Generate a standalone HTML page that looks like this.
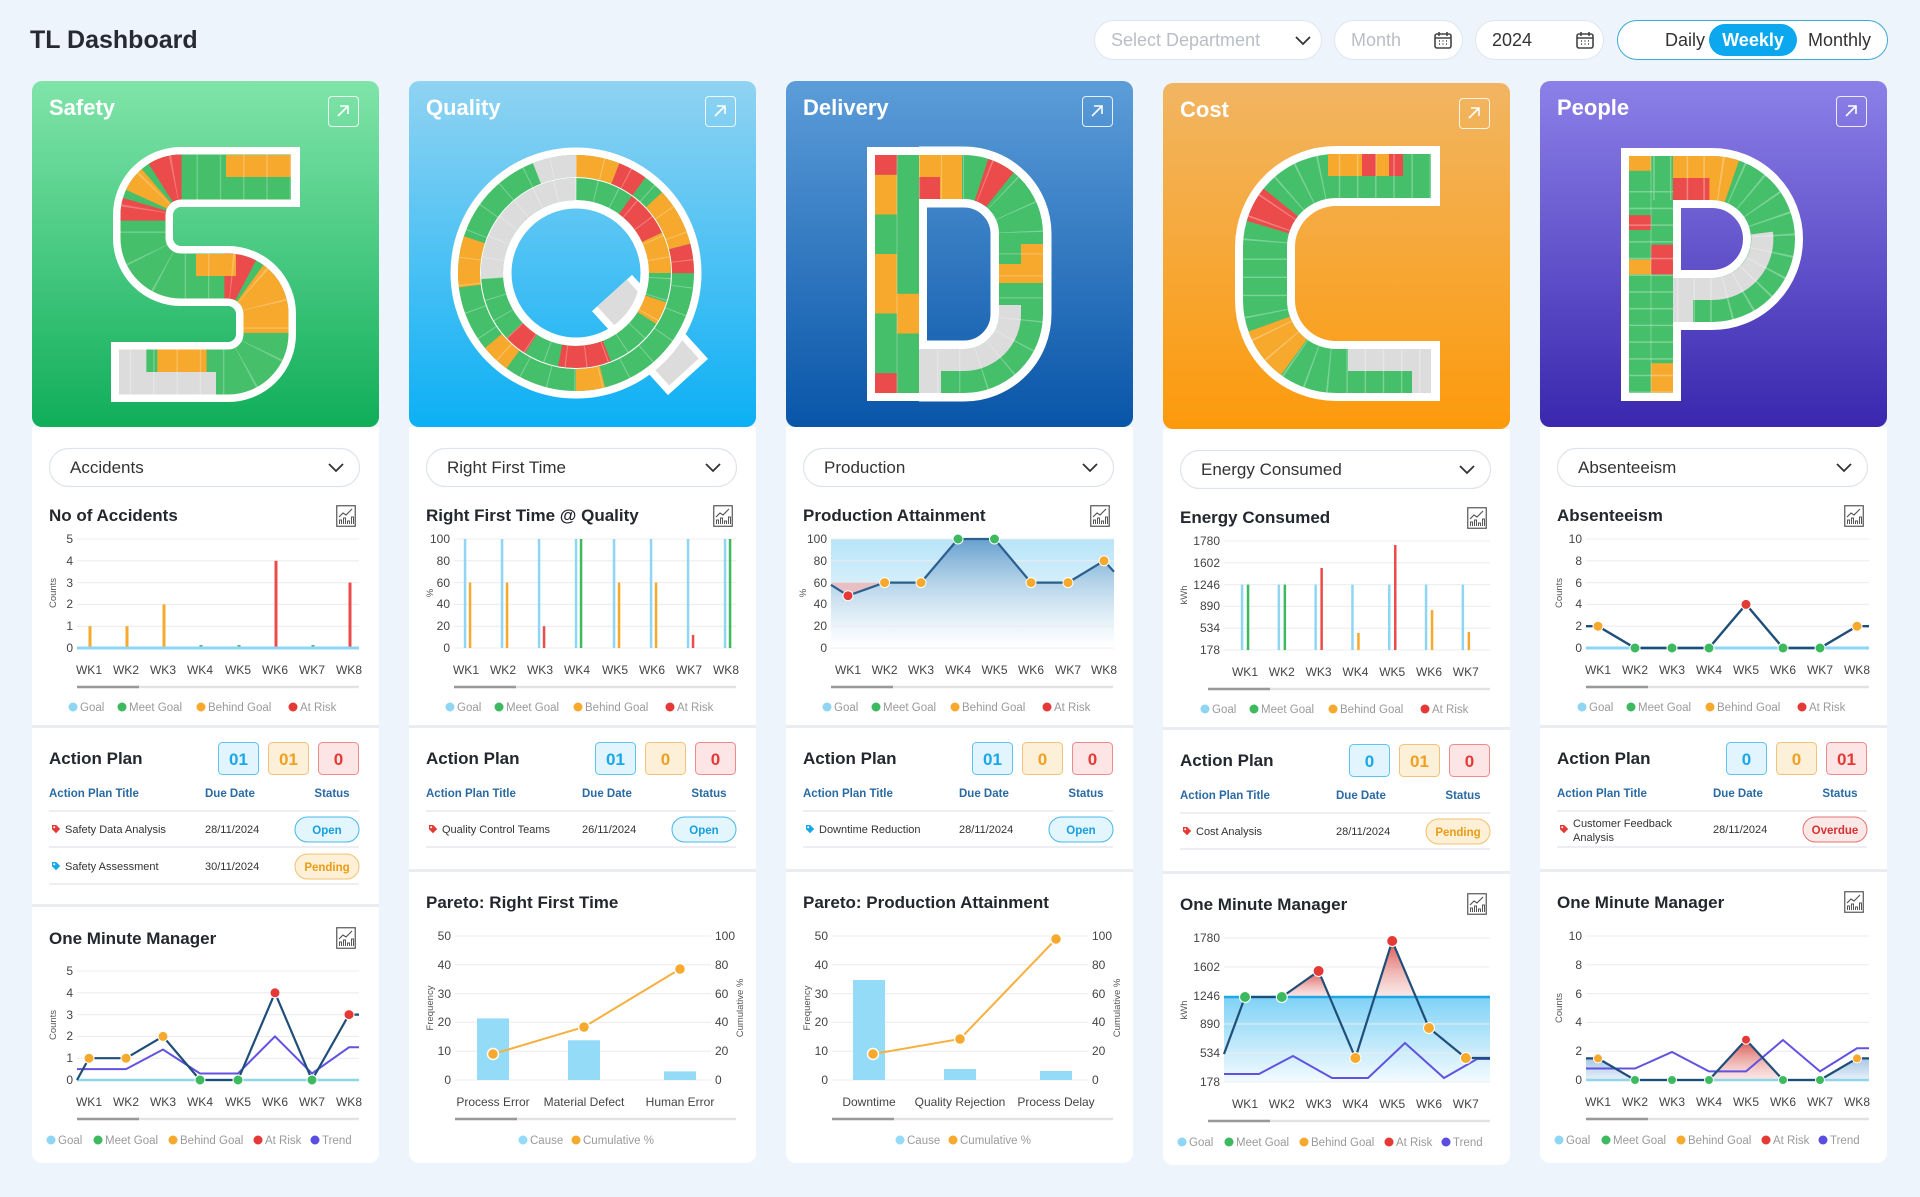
<!DOCTYPE html>
<html><head><meta charset="utf-8">
<style>
*{box-sizing:border-box}
body{margin:0;width:1920px;height:1197px;background:#eef4fc;position:relative;overflow:hidden;font-family:"Liberation Sans",sans-serif}
.title{position:absolute;left:30px;top:26px;font-weight:bold;font-size:25px;color:#262b33}
.ctl{position:absolute;top:20px;height:40px;border:1px solid #dfe6ef;border-radius:20px;background:#fff;font-size:18px;color:#b9bec6;line-height:38px;padding-left:16px}
.card{position:absolute;top:81px;width:347px;height:1082px}
.hero{position:absolute;left:0;top:0;width:347px;height:346px;border-radius:10px;overflow:hidden}
.hero .t{position:absolute;left:17px;top:14px;font-weight:bold;font-size:22px;color:#fff}
.hero .ar{position:absolute;left:296px;top:15px;width:31px;height:31px;border:1.5px solid rgba(255,255,255,.85);border-radius:4px}
.hero svg{position:absolute;left:0;top:0}
.body{position:absolute;left:0;top:346px;width:347px;height:736px;background:#fff;border-radius:0 0 10px 10px}
.body svg{position:absolute;left:0;top:0}
.h{font-weight:bold;font-size:17px;fill:#23272e}
.dd{font-size:17px;fill:#333}
.ddb{fill:#fff;stroke:#dfe4ea;stroke-width:1.2}
.chev{fill:none;stroke:#333;stroke-width:1.8}
.ax text,text.ax{font-size:12px;fill:#444}
.lg text{font-size:11.5px;fill:#9a9a9a}
.th{font-weight:bold;font-size:11.5px;fill:#2a6aa3}
.td{font-size:11px;fill:#333}
.rot{font-size:9.5px;fill:#555}
.bn{font-weight:bold;font-size:17px;text-anchor:middle}
.pl{font-weight:bold;font-size:11.5px;text-anchor:middle}
.g line{stroke:#ececec;stroke-width:1}
</style></head><body>
<svg width="0" height="0" style="position:absolute">
<defs>
<symbol id="ci" viewBox="0 0 20 22"><rect x=".75" y=".75" width="18.5" height="20.5" fill="none" stroke="#555" stroke-width="1.2"/><polyline points="3,12 7,8 10,10 16,4" fill="none" stroke="#555" stroke-width="1.2"/><path d="M3.5,19v-4h2v4M7.5,19v-6h2v6M11.5,19v-3h2v3M15.5,19v-7h2v7" fill="none" stroke="#555" stroke-width="1"/></symbol>
<symbol id="tag" viewBox="0 0 10 10"><path d="M1,1h4.2l4,4l-4.2,4.2l-4,-4z"/><circle cx="3.2" cy="3.2" r="1" fill="#fff"/></symbol>
<symbol id="cal" viewBox="0 0 20 20"><rect x="2" y="4" width="16" height="14" rx="2" fill="none" stroke="#444" stroke-width="1.6"/><path d="M2,8h16M6,2v4M14,2v4" stroke="#444" stroke-width="1.6"/><path d="M6,11h1M9.5,11h1M13,11h1M6,14h1M9.5,14h1M13,14h1" stroke="#444" stroke-width="1.6"/></symbol>
<path id="pS" pathLength="100" fill="none" d="M178,30 L68,30 A38,38 0 0 0 30,68 L30,91 A38,38 0 0 0 68,129 L115,129 A38,38 0 0 1 153,167 L153,187 A38,38 0 0 1 115,225 L6,225"/>
<path id="pSw" fill="none" d="M187,30 L68,30 A38,38 0 0 0 30,68 L30,91 A38,38 0 0 0 68,129 L115,129 A38,38 0 0 1 153,167 L153,187 A38,38 0 0 1 115,225 L-2,225"/>
<path id="pD" pathLength="100" fill="none" d="M52,30 L97,30 A57,57 0 0 1 154,87 L154,167 A57,57 0 0 1 97,224 L52,224"/>
<path id="pC" pathLength="100" fill="none" d="M195,29 L100,29 A71,71 0 0 0 29,100 L29,153 A71,71 0 0 0 100,224 L195,224"/>
<path id="pCw" fill="none" d="M204,29 L100,29 A71,71 0 0 0 29,100 L29,153 A71,71 0 0 0 100,224 L204,224"/>
<path id="pP" pathLength="100" fill="none" d="M29,246 L29,31 L90,31 A61,61 0 0 1 151,92 A61,61 0 0 1 90,153 L51,153"/>
<path id="pPw" fill="none" d="M29,254 L29,31 L90,31 A61,61 0 0 1 151,92 A61,61 0 0 1 90,153 L45,153"/>
<linearGradient id="gBlueA" x1="0" y1="0" x2="0" y2="1"><stop offset="0" stop-color="#b8e4f8"/><stop offset="1" stop-color="#ffffff"/></linearGradient>
<linearGradient id="gSteel" x1="0" y1="0" x2="0" y2="1"><stop offset="0" stop-color="#5e98c9" stop-opacity=".9"/><stop offset="1" stop-color="#ffffff" stop-opacity=".2"/></linearGradient>
<linearGradient id="gGoal" x1="0" y1="0" x2="0" y2="1"><stop offset="0" stop-color="#7fd2f6"/><stop offset="1" stop-color="#f4fbff"/></linearGradient>
<linearGradient id="gRed" x1="0" y1="0" x2="0" y2="1"><stop offset="0" stop-color="#d9504a"/><stop offset="1" stop-color="#f3c7c5" stop-opacity=".4"/></linearGradient>
<linearGradient id="gPB" x1="0" y1="0" x2="0" y2="1"><stop offset="0" stop-color="#a9c7e4"/><stop offset="1" stop-color="#e8f1fa"/></linearGradient>
</defs></svg>

<div class="title">TL Dashboard</div>
<div class="ctl" style="left:1094px;width:228px">Select Department<svg width="16" height="10" style="position:absolute;left:200px;top:15px"><path d="M1,1l7,7l7,-7" fill="none" stroke="#333" stroke-width="1.8"/></svg></div>
<div class="ctl" style="left:1334px;width:129px">Month<svg width="20" height="20" style="position:absolute;left:98px;top:9px"><use href="#cal"/></svg></div>
<div class="ctl" style="left:1475px;width:129px;color:#333">2024<svg width="20" height="20" style="position:absolute;left:99px;top:9px"><use href="#cal"/></svg></div>
<div class="ctl" style="left:1617px;width:271px;border-color:#3aa9d8;color:#333;padding:0">
<span style="position:absolute;left:47px;top:0">Daily</span>
<span style="position:absolute;left:91px;top:3px;width:88px;height:32px;border-radius:16px;background:#0ba8ef;color:#fff;font-weight:bold;text-align:center;line-height:32px">Weekly</span>
<span style="position:absolute;left:190px;top:0">Monthly</span></div>

<!-- SAFETY -->
<div class="card" style="left:32px">
<div class="hero" style="background:linear-gradient(#80e4a9,#10ae5a)"><div class="t">Safety</div><div class="ar"><svg width="28" height="28"><path d="M9,19L19,9M11,9h8v8" fill="none" stroke="#fff" stroke-width="1.6"/></svg></div>
<svg width="347" height="346"><g transform="translate(81,66)">
<use href="#pSw" stroke="#fff" stroke-width="60"/>
<use href="#pS" stroke="#45bf69" stroke-width="45"/>
<rect x="113" y="8" width="65" height="22" fill="#f6a92c"/>
<use href="#pS" stroke="#ec4b4b" stroke-width="45" stroke-dasharray="4 200" stroke-dashoffset="-20"/>
<use href="#pS" stroke="#f6a92c" stroke-width="45" stroke-dasharray="3 200" stroke-dashoffset="-25"/>
<use href="#pS" stroke="#ec4b4b" stroke-width="45" stroke-dasharray="3 200" stroke-dashoffset="-29"/>
<use href="#pS" stroke="#ec4b4b" stroke-width="45" stroke-dasharray="4 200" stroke-dashoffset="-54"/>
<use href="#pS" stroke="#f6a92c" stroke-width="45" stroke-dasharray="10 200" stroke-dashoffset="-59"/>
<use href="#pS" stroke="#f6a92c" stroke-width="45" stroke-dasharray="9 200" stroke-dashoffset="-84"/>
<rect x="83" y="107" width="40" height="22" fill="#f6a92c"/>
<rect x="8" y="225" width="95" height="22.5" fill="#dcdcdc"/>
<use href="#pS" stroke="#dcdcdc" stroke-width="45" stroke-dasharray="5 200" stroke-dashoffset="-95"/>
<use href="#pS" stroke="#fff" stroke-opacity=".25" stroke-width="45" stroke-dasharray="0.25 4"/>
</g></svg></div>
<div class="body"><svg width="347" height="736">
<rect x="17.5" y="21.5" width="310" height="38" rx="19" class="ddb"/><text x="38" y="46" class="dd">Accidents</text><path d="M297,37l7,7l7,-7" class="chev"/>
<text x="17" y="94" class="h">No of Accidents</text><use href="#ci" x="304" y="78" width="20" height="22"/>
<g class="g"><line x1="45" x2="327" y1="112" y2="112"/><line x1="45" x2="327" y1="133.8" y2="133.8"/><line x1="45" x2="327" y1="155.6" y2="155.6"/><line x1="45" x2="327" y1="177.4" y2="177.4"/><line x1="45" x2="327" y1="199.2" y2="199.2"/></g>
<g class="ax" text-anchor="end"><text x="41" y="116">5</text><text x="41" y="138">4</text><text x="41" y="160">3</text><text x="41" y="181">2</text><text x="41" y="203">1</text><text x="41" y="225">0</text></g>
<text class="rot" transform="translate(24,166) rotate(-90)" text-anchor="middle">Counts</text>
<rect x="56.5" y="199.2" width="3" height="21.8" fill="#f6a92c"/><rect x="93.5" y="199.2" width="3" height="21.8" fill="#f6a92c"/><rect x="130.5" y="177.4" width="3" height="43.6" fill="#f6a92c"/><rect x="167.5" y="218" width="3" height="3" fill="#45bf69"/><rect x="205.5" y="218" width="3" height="3" fill="#45bf69"/><rect x="242.5" y="133.8" width="3" height="87.2" fill="#ec4b4b"/><rect x="279.5" y="218" width="3" height="3" fill="#45bf69"/><rect x="316.5" y="155.6" width="3" height="65.4" fill="#ec4b4b"/>
<line x1="45" x2="327" y1="221" y2="221" stroke="#8fd6f5" stroke-width="3"/>
<g class="ax" text-anchor="middle"><text x="57" y="247">WK1</text><text x="94" y="247">WK2</text><text x="131" y="247">WK3</text><text x="168" y="247">WK4</text><text x="206" y="247">WK5</text><text x="243" y="247">WK6</text><text x="280" y="247">WK7</text><text x="317" y="247">WK8</text></g>
<line x1="45" x2="327" y1="260" y2="260" stroke="#e2e2e2" stroke-width="2.5"/><line x1="45" x2="107" y1="260" y2="260" stroke="#999" stroke-width="2.5"/>
<g class="lg"><circle cx="41" cy="280" r="4.5" fill="#8fd6f5"/><text x="48" y="284">Goal</text><circle cx="90" cy="280" r="4.5" fill="#3dba5f"/><text x="97" y="284">Meet Goal</text><circle cx="169" cy="280" r="4.5" fill="#f6a92c"/><text x="176" y="284">Behind Goal</text><circle cx="261" cy="280" r="4.5" fill="#e53935"/><text x="268" y="284">At Risk</text></g>
<rect x="0" y="298" width="347" height="3" fill="#e9edf2"/>
<text x="17" y="337" class="h">Action Plan</text>
<rect x="186.5" y="315.5" width="40" height="32" rx="4" fill="#e2f4fd" stroke="#5bc4ef"/><text x="206.5" y="338" class="bn" fill="#1aa7e8">01</text>
<rect x="236.5" y="315.5" width="40" height="32" rx="4" fill="#fdf0d9" stroke="#f3c27a"/><text x="256.5" y="338" class="bn" fill="#f0a020">01</text>
<rect x="286.5" y="315.5" width="40" height="32" rx="4" fill="#fde5e5" stroke="#ef8a8a"/><text x="306.5" y="338" class="bn" fill="#e53935">0</text>
<text x="17" y="370" class="th">Action Plan Title</text><text x="173" y="370" class="th">Due Date</text><text x="300" y="370" class="th" text-anchor="middle">Status</text>
<line x1="17" x2="327" y1="384" y2="384" stroke="#eceef2" stroke-width="2"/>
<use href="#tag" x="19" y="397" width="10" height="10" fill="#e53935"/><text x="33" y="406" class="td">Safety Data Analysis</text><text x="173" y="406" class="td">28/11/2024</text>
<rect x="263" y="390" width="64" height="25" rx="12.5" fill="#e3f5fd" stroke="#48b8ea"/><text x="295" y="407" class="pl" fill="#159fe0">Open</text>
<line x1="17" x2="327" y1="420" y2="420" stroke="#eceef2" stroke-width="2"/>
<use href="#tag" x="19" y="434" width="10" height="10" fill="#1aa7e8"/><text x="33" y="443" class="td">Safety Assessment</text><text x="173" y="443" class="td">30/11/2024</text>
<rect x="263" y="427" width="64" height="25" rx="12.5" fill="#fdf0d6" stroke="#f2c070"/><text x="295" y="444" class="pl" fill="#eb9b14">Pending</text>
<line x1="17" x2="327" y1="457" y2="457" stroke="#eceef2" stroke-width="2"/>
<rect x="0" y="477" width="347" height="3" fill="#e9edf2"/>
<text x="17" y="517" class="h">One Minute Manager</text><use href="#ci" x="304" y="500" width="20" height="22"/>
<g class="g"><line x1="45" x2="327" y1="544" y2="544"/><line x1="45" x2="327" y1="565.8" y2="565.8"/><line x1="45" x2="327" y1="587.6" y2="587.6"/><line x1="45" x2="327" y1="609.4" y2="609.4"/><line x1="45" x2="327" y1="631.2" y2="631.2"/></g>
<g class="ax" text-anchor="end"><text x="41" y="548">5</text><text x="41" y="570">4</text><text x="41" y="592">3</text><text x="41" y="613">2</text><text x="41" y="635">1</text><text x="41" y="657">0</text></g>
<text class="rot" transform="translate(24,598) rotate(-90)" text-anchor="middle">Counts</text>
<line x1="45" x2="327" y1="653" y2="653" stroke="#8fd6e8" stroke-width="2.5"/>
<polyline points="45,642.1 57,642.1 94,642.1 131,622.5 168,646.5 206,646.5 243,609.4 280,646.5 317,620.3 327,620.3" fill="none" stroke="#6152e0" stroke-width="2"/>
<polyline points="45,653 57,631.2 94,631.2 131,609.4 168,653 206,653 243,565.8 280,653 317,587.6 327,587.6" fill="none" stroke="#1f4e79" stroke-width="2.2"/>
<g stroke="#fff" stroke-width="1"><circle cx="57" cy="631.2" r="5" fill="#f6a92c"/><circle cx="94" cy="631.2" r="5" fill="#f6a92c"/><circle cx="131" cy="609.4" r="5" fill="#f6a92c"/><circle cx="168" cy="653" r="5" fill="#3dba5f"/><circle cx="206" cy="653" r="5" fill="#3dba5f"/><circle cx="243" cy="565.8" r="5" fill="#e53935"/><circle cx="280" cy="653" r="5" fill="#3dba5f"/><circle cx="317" cy="587.6" r="5" fill="#e53935"/></g>
<g class="ax" text-anchor="middle"><text x="57" y="679">WK1</text><text x="94" y="679">WK2</text><text x="131" y="679">WK3</text><text x="168" y="679">WK4</text><text x="206" y="679">WK5</text><text x="243" y="679">WK6</text><text x="280" y="679">WK7</text><text x="317" y="679">WK8</text></g>
<line x1="45" x2="327" y1="692" y2="692" stroke="#e2e2e2" stroke-width="2.5"/><line x1="45" x2="107" y1="692" y2="692" stroke="#999" stroke-width="2.5"/>
<g class="lg"><circle cx="19" cy="713" r="4.5" fill="#8fd6f5"/><text x="26" y="717">Goal</text><circle cx="66" cy="713" r="4.5" fill="#3dba5f"/><text x="73" y="717">Meet Goal</text><circle cx="141" cy="713" r="4.5" fill="#f6a92c"/><text x="148" y="717">Behind Goal</text><circle cx="226" cy="713" r="4.5" fill="#e53935"/><text x="233" y="717">At Risk</text><circle cx="283" cy="713" r="4.5" fill="#5a4de0"/><text x="290" y="717">Trend</text></g>
</svg></div></div>

<!-- QUALITY -->
<div class="card" style="left:409px">
<div class="hero" style="background:linear-gradient(#90d3f2,#0cb0f5)"><div class="t">Quality</div><div class="ar"><svg width="28" height="28"><path d="M9,19L19,9M11,9h8v8" fill="none" stroke="#fff" stroke-width="1.6"/></svg></div>
<svg width="347" height="346"><g transform="translate(167,192)">
<line x1="36" y1="20" x2="112" y2="104" stroke="#fff" stroke-width="54"/>
<line x1="36" y1="20" x2="108" y2="99" stroke="#dcdcdc" stroke-width="40"/>
<circle r="95" fill="none" stroke="#fff" stroke-width="61"/>
<g transform="rotate(-90)" fill="none">
<circle r="107" stroke="#45bf69" stroke-width="22"/>
<circle r="84" stroke="#45bf69" stroke-width="22"/>
<circle r="107" stroke="#f6a92c" stroke-width="22" stroke-dasharray="40.3 1000"/>
<circle r="107" stroke="#ec4b4b" stroke-width="22" stroke-dasharray="26.9 1000" stroke-dashoffset="-40.3"/>
<circle r="107" stroke="#f6a92c" stroke-width="22" stroke-dasharray="53.8 1000" stroke-dashoffset="-87.4"/>
<circle r="107" stroke="#ec4b4b" stroke-width="22" stroke-dasharray="26.9 1000" stroke-dashoffset="-141.2"/>
<circle r="107" stroke="#f6a92c" stroke-width="22" stroke-dasharray="26.9 1000" stroke-dashoffset="-309.3"/>
<circle r="107" stroke="#f6a92c" stroke-width="22" stroke-dasharray="26.9 1000" stroke-dashoffset="-403.4"/>
<circle r="107" stroke="#f6a92c" stroke-width="22" stroke-dasharray="47.1 1000" stroke-dashoffset="-490.8"/>
<circle r="107" stroke="#dcdcdc" stroke-width="22" stroke-dasharray="40.3 1000" stroke-dashoffset="-632"/>
<circle r="84" stroke="#ec4b4b" stroke-width="22" stroke-dasharray="42.2 1000" stroke-dashoffset="-52.8"/>
<circle r="84" stroke="#f6a92c" stroke-width="22" stroke-dasharray="36.9 1000" stroke-dashoffset="-95"/>
<circle r="84" stroke="#f6a92c" stroke-width="22" stroke-dasharray="21.1 1000" stroke-dashoffset="-158.3"/>
<circle r="84" stroke="#ec4b4b" stroke-width="22" stroke-dasharray="47.5 1000" stroke-dashoffset="-232.2"/>
<circle r="84" stroke="#ec4b4b" stroke-width="22" stroke-dasharray="21.1 1000" stroke-dashoffset="-311.4"/>
<circle r="84" stroke="#dcdcdc" stroke-width="22" stroke-dasharray="137.2 1000" stroke-dashoffset="-390.6"/>
<circle r="107" stroke="#fff" stroke-opacity=".3" stroke-width="22" stroke-dasharray="1 24.9"/>
<circle r="84" stroke="#fff" stroke-opacity=".3" stroke-width="22" stroke-dasharray="1 18.5"/>
<circle r="95.5" stroke="#fff" stroke-opacity=".4" stroke-width="1"/>
</g></g></svg></div>
<div class="body"><svg width="347" height="736">
<rect x="17.5" y="21.5" width="310" height="38" rx="19" class="ddb"/><text x="38" y="46" class="dd">Right First Time</text><path d="M297,37l7,7l7,-7" class="chev"/>
<text x="17" y="94" class="h">Right First Time @ Quality</text><use href="#ci" x="304" y="78" width="20" height="22"/>
<g class="g"><line x1="45" x2="327" y1="112" y2="112"/><line x1="45" x2="327" y1="133.8" y2="133.8"/><line x1="45" x2="327" y1="155.6" y2="155.6"/><line x1="45" x2="327" y1="177.4" y2="177.4"/><line x1="45" x2="327" y1="199.2" y2="199.2"/><line x1="45" x2="327" y1="221" y2="221"/></g>
<g class="ax" text-anchor="end"><text x="41" y="116">100</text><text x="41" y="138">80</text><text x="41" y="160">60</text><text x="41" y="181">40</text><text x="41" y="203">20</text><text x="41" y="225">0</text></g>
<text class="rot" transform="translate(24,166) rotate(-90)" text-anchor="middle">%</text>
<g fill="#8fd6f5"><rect x="54.8" y="112" width="2.5" height="109"/><rect x="91.8" y="112" width="2.5" height="109"/><rect x="128.8" y="112" width="2.5" height="109"/><rect x="165.8" y="112" width="2.5" height="109"/><rect x="203.8" y="112" width="2.5" height="109"/><rect x="240.8" y="112" width="2.5" height="109"/><rect x="277.8" y="112" width="2.5" height="109"/><rect x="314.8" y="112" width="2.5" height="109"/></g>
<rect x="59.8" y="155.6" width="2.5" height="65.4" fill="#f6a92c"/><rect x="96.8" y="155.6" width="2.5" height="65.4" fill="#f6a92c"/><rect x="133.8" y="199.2" width="2.5" height="21.8" fill="#ec4b4b"/><rect x="170.8" y="112" width="2.5" height="109" fill="#3dba5f"/><rect x="208.8" y="155.6" width="2.5" height="65.4" fill="#f6a92c"/><rect x="245.8" y="155.6" width="2.5" height="65.4" fill="#f6a92c"/><rect x="282.8" y="207.9" width="2.5" height="13.1" fill="#ec4b4b"/><rect x="319.8" y="112" width="2.5" height="109" fill="#3dba5f"/>
<g class="ax" text-anchor="middle"><text x="57" y="247">WK1</text><text x="94" y="247">WK2</text><text x="131" y="247">WK3</text><text x="168" y="247">WK4</text><text x="206" y="247">WK5</text><text x="243" y="247">WK6</text><text x="280" y="247">WK7</text><text x="317" y="247">WK8</text></g>
<line x1="45" x2="327" y1="260" y2="260" stroke="#e2e2e2" stroke-width="2.5"/><line x1="45" x2="107" y1="260" y2="260" stroke="#999" stroke-width="2.5"/>
<g class="lg"><circle cx="41" cy="280" r="4.5" fill="#8fd6f5"/><text x="48" y="284">Goal</text><circle cx="90" cy="280" r="4.5" fill="#3dba5f"/><text x="97" y="284">Meet Goal</text><circle cx="169" cy="280" r="4.5" fill="#f6a92c"/><text x="176" y="284">Behind Goal</text><circle cx="261" cy="280" r="4.5" fill="#e53935"/><text x="268" y="284">At Risk</text></g>
<rect x="0" y="298" width="347" height="3" fill="#e9edf2"/>
<text x="17" y="337" class="h">Action Plan</text>
<rect x="186.5" y="315.5" width="40" height="32" rx="4" fill="#e2f4fd" stroke="#5bc4ef"/><text x="206.5" y="338" class="bn" fill="#1aa7e8">01</text>
<rect x="236.5" y="315.5" width="40" height="32" rx="4" fill="#fdf0d9" stroke="#f3c27a"/><text x="256.5" y="338" class="bn" fill="#f0a020">0</text>
<rect x="286.5" y="315.5" width="40" height="32" rx="4" fill="#fde5e5" stroke="#ef8a8a"/><text x="306.5" y="338" class="bn" fill="#e53935">0</text>
<text x="17" y="370" class="th">Action Plan Title</text><text x="173" y="370" class="th">Due Date</text><text x="300" y="370" class="th" text-anchor="middle">Status</text>
<line x1="17" x2="327" y1="384" y2="384" stroke="#eceef2" stroke-width="2"/>
<use href="#tag" x="19" y="397" width="10" height="10" fill="#e53935"/><text x="33" y="406" class="td">Quality Control Teams</text><text x="173" y="406" class="td">26/11/2024</text>
<rect x="263" y="390" width="64" height="25" rx="12.5" fill="#e3f5fd" stroke="#48b8ea"/><text x="295" y="407" class="pl" fill="#159fe0">Open</text>
<line x1="17" x2="327" y1="420" y2="420" stroke="#eceef2" stroke-width="2"/>
<rect x="0" y="442" width="347" height="3" fill="#e9edf2"/>
<text x="17" y="481" class="h">Pareto: Right First Time</text>
<g class="g"><line x1="46" x2="302" y1="509" y2="509"/><line x1="46" x2="302" y1="537.8" y2="537.8"/><line x1="46" x2="302" y1="566.6" y2="566.6"/><line x1="46" x2="302" y1="595.4" y2="595.4"/><line x1="46" x2="302" y1="624.2" y2="624.2"/><line x1="46" x2="302" y1="653" y2="653"/></g>
<g class="ax" text-anchor="end"><text x="42" y="513">50</text><text x="42" y="542">40</text><text x="42" y="571">30</text><text x="42" y="599">20</text><text x="42" y="628">10</text><text x="42" y="657">0</text></g>
<g class="ax"><text x="306" y="513">100</text><text x="306" y="542">80</text><text x="306" y="571">60</text><text x="306" y="599">40</text><text x="306" y="628">20</text><text x="306" y="657">0</text></g>
<text class="rot" transform="translate(24,581) rotate(-90)" text-anchor="middle">Frequency</text>
<text class="rot" transform="translate(334,581) rotate(-90)" text-anchor="middle">Cumulative %</text>
<g fill="#93dbf7"><rect x="68" y="591.4" width="32" height="61.6"/><rect x="159" y="613.3" width="32" height="39.7"/><rect x="255" y="644.4" width="32" height="8.6"/></g>
<polyline points="84,627 175,600 271,542" fill="none" stroke="#f6b040" stroke-width="2"/>
<g fill="#f6a92c" stroke="#fff" stroke-width="1.5"><circle cx="84" cy="627" r="5.5"/><circle cx="175" cy="600" r="5.5"/><circle cx="271" cy="542" r="5.5"/></g>
<g class="ax" text-anchor="middle"><text x="84" y="679">Process Error</text><text x="175" y="679">Material Defect</text><text x="271" y="679">Human Error</text></g>
<line x1="46" x2="327" y1="692" y2="692" stroke="#e2e2e2" stroke-width="2.5"/><line x1="46" x2="108" y1="692" y2="692" stroke="#999" stroke-width="2.5"/>
<g class="lg"><circle cx="114" cy="713" r="4.5" fill="#93dbf7"/><text x="121" y="717">Cause</text><circle cx="167" cy="713" r="4.5" fill="#f6a92c"/><text x="174" y="717">Cumulative %</text></g>
</svg></div></div>

<!-- DELIVERY -->
<div class="card" style="left:786px">
<div class="hero" style="background:linear-gradient(#5c9dd9,#0955a8)"><div class="t">Delivery</div><div class="ar"><svg width="28" height="28"><path d="M9,19L19,9M11,9h8v8" fill="none" stroke="#fff" stroke-width="1.6"/></svg></div>
<svg width="347" height="346"><g transform="translate(81,66)">
<rect x="0" y="0" width="60" height="254" fill="#fff"/>
<use href="#pD" stroke="#fff" stroke-width="61"/>
<rect x="8" y="8" width="44" height="238" fill="#45bf69"/>
<use href="#pD" stroke="#45bf69" stroke-width="44"/>
<g fill="#f6a92c"><rect x="8" y="27.8" width="22" height="39.7"/><rect x="8" y="107" width="22" height="59.5"/><rect x="30" y="146.8" width="22" height="39.7"/><rect x="52" y="8" width="43" height="22"/><rect x="73" y="30" width="22" height="22"/><rect x="154" y="97" width="22" height="39"/><rect x="132" y="117" width="22" height="19"/></g>
<g fill="#ec4b4b"><rect x="8" y="8" width="22" height="19.8"/><rect x="8" y="226.2" width="22" height="19.8"/><rect x="52" y="30" width="21" height="22"/></g>
<use href="#pD" stroke="#ec4b4b" stroke-width="44" stroke-dasharray="6 200" stroke-dashoffset="-18"/>
<path d="M143,158 L143,167 A46,46 0 0 1 97,213 L70,213" fill="none" stroke="#dcdcdc" stroke-width="22"/>
<rect x="52" y="202" width="22" height="44" fill="#dcdcdc"/>
<use href="#pD" stroke="#fff" stroke-opacity=".3" stroke-width="44" stroke-dasharray="0.3 6"/>
<line x1="30" y1="8" x2="30" y2="246" stroke="#fff" stroke-opacity=".3"/>
</g></svg></div>
<div class="body"><svg width="347" height="736">
<rect x="17.5" y="21.5" width="310" height="38" rx="19" class="ddb"/><text x="38" y="46" class="dd">Production</text><path d="M297,37l7,7l7,-7" class="chev"/>
<text x="17" y="94" class="h">Production Attainment</text><use href="#ci" x="304" y="78" width="20" height="22"/>
<rect x="45" y="112" width="283" height="109" fill="url(#gBlueA)"/>
<g class="g"><line x1="45" x2="328" y1="112" y2="112"/><line x1="45" x2="328" y1="133.8" y2="133.8"/><line x1="45" x2="328" y1="155.6" y2="155.6"/><line x1="45" x2="328" y1="177.4" y2="177.4"/><line x1="45" x2="328" y1="199.2" y2="199.2"/><line x1="45" x2="328" y1="221" y2="221"/></g>
<polygon points="45,157.8 62,168.7 98.6,155.6 135,155.6 172,112 208.5,112 245,155.6 282,155.6 318,133.8 328,144.7 328,221 45,221" fill="url(#gSteel)"/>
<polygon points="45,155.6 62,168.7 98.6,155.6" fill="#f0a0a0" opacity=".6"/>
<polyline points="45,157.8 62,168.7 98.6,155.6 135,155.6 172,112 208.5,112 245,155.6 282,155.6 318,133.8 328,144.7" fill="none" stroke="#2b5f8e" stroke-width="2.2"/>
<g stroke="#fff" stroke-width="1"><circle cx="62" cy="168.7" r="5" fill="#e53935"/><circle cx="98.6" cy="155.6" r="5" fill="#f6a92c"/><circle cx="135" cy="155.6" r="5" fill="#f6a92c"/><circle cx="172" cy="112" r="5" fill="#3dba5f"/><circle cx="208.5" cy="112" r="5" fill="#3dba5f"/><circle cx="245" cy="155.6" r="5" fill="#f6a92c"/><circle cx="282" cy="155.6" r="5" fill="#f6a92c"/><circle cx="318" cy="133.8" r="5" fill="#f6a92c"/></g>
<g class="ax" text-anchor="end"><text x="41" y="116">100</text><text x="41" y="138">80</text><text x="41" y="160">60</text><text x="41" y="181">40</text><text x="41" y="203">20</text><text x="41" y="225">0</text></g>
<text class="rot" transform="translate(20,166) rotate(-90)" text-anchor="middle">%</text>
<g class="ax" text-anchor="middle"><text x="62" y="247">WK1</text><text x="98.6" y="247">WK2</text><text x="135" y="247">WK3</text><text x="172" y="247">WK4</text><text x="208.5" y="247">WK5</text><text x="245" y="247">WK6</text><text x="282" y="247">WK7</text><text x="318" y="247">WK8</text></g>
<line x1="45" x2="327" y1="260" y2="260" stroke="#e2e2e2" stroke-width="2.5"/><line x1="45" x2="107" y1="260" y2="260" stroke="#999" stroke-width="2.5"/>
<g class="lg"><circle cx="41" cy="280" r="4.5" fill="#8fd6f5"/><text x="48" y="284">Goal</text><circle cx="90" cy="280" r="4.5" fill="#3dba5f"/><text x="97" y="284">Meet Goal</text><circle cx="169" cy="280" r="4.5" fill="#f6a92c"/><text x="176" y="284">Behind Goal</text><circle cx="261" cy="280" r="4.5" fill="#e53935"/><text x="268" y="284">At Risk</text></g>
<rect x="0" y="298" width="347" height="3" fill="#e9edf2"/>
<text x="17" y="337" class="h">Action Plan</text>
<rect x="186.5" y="315.5" width="40" height="32" rx="4" fill="#e2f4fd" stroke="#5bc4ef"/><text x="206.5" y="338" class="bn" fill="#1aa7e8">01</text>
<rect x="236.5" y="315.5" width="40" height="32" rx="4" fill="#fdf0d9" stroke="#f3c27a"/><text x="256.5" y="338" class="bn" fill="#f0a020">0</text>
<rect x="286.5" y="315.5" width="40" height="32" rx="4" fill="#fde5e5" stroke="#ef8a8a"/><text x="306.5" y="338" class="bn" fill="#e53935">0</text>
<text x="17" y="370" class="th">Action Plan Title</text><text x="173" y="370" class="th">Due Date</text><text x="300" y="370" class="th" text-anchor="middle">Status</text>
<line x1="17" x2="327" y1="384" y2="384" stroke="#eceef2" stroke-width="2"/>
<use href="#tag" x="19" y="397" width="10" height="10" fill="#1aa7e8"/><text x="33" y="406" class="td">Downtime Reduction</text><text x="173" y="406" class="td">28/11/2024</text>
<rect x="263" y="390" width="64" height="25" rx="12.5" fill="#e3f5fd" stroke="#48b8ea"/><text x="295" y="407" class="pl" fill="#159fe0">Open</text>
<line x1="17" x2="327" y1="420" y2="420" stroke="#eceef2" stroke-width="2"/>
<rect x="0" y="442" width="347" height="3" fill="#e9edf2"/>
<text x="17" y="481" class="h">Pareto: Production Attainment</text>
<g class="g"><line x1="46" x2="302" y1="509" y2="509"/><line x1="46" x2="302" y1="537.8" y2="537.8"/><line x1="46" x2="302" y1="566.6" y2="566.6"/><line x1="46" x2="302" y1="595.4" y2="595.4"/><line x1="46" x2="302" y1="624.2" y2="624.2"/><line x1="46" x2="302" y1="653" y2="653"/></g>
<g class="ax" text-anchor="end"><text x="42" y="513">50</text><text x="42" y="542">40</text><text x="42" y="571">30</text><text x="42" y="599">20</text><text x="42" y="628">10</text><text x="42" y="657">0</text></g>
<g class="ax"><text x="306" y="513">100</text><text x="306" y="542">80</text><text x="306" y="571">60</text><text x="306" y="599">40</text><text x="306" y="628">20</text><text x="306" y="657">0</text></g>
<text class="rot" transform="translate(24,581) rotate(-90)" text-anchor="middle">Frequency</text>
<text class="rot" transform="translate(334,581) rotate(-90)" text-anchor="middle">Cumulative %</text>
<g fill="#93dbf7"><rect x="67" y="553" width="32" height="100"/><rect x="158" y="642" width="32" height="11"/><rect x="254" y="644" width="32" height="9"/></g>
<polyline points="87,627 174,612 270,512" fill="none" stroke="#f6b040" stroke-width="2"/>
<g fill="#f6a92c" stroke="#fff" stroke-width="1.5"><circle cx="87" cy="627" r="5.5"/><circle cx="174" cy="612" r="5.5"/><circle cx="270" cy="512" r="5.5"/></g>
<g class="ax" text-anchor="middle"><text x="83" y="679">Downtime</text><text x="174" y="679">Quality Rejection</text><text x="270" y="679">Process Delay</text></g>
<line x1="46" x2="327" y1="692" y2="692" stroke="#e2e2e2" stroke-width="2.5"/><line x1="46" x2="108" y1="692" y2="692" stroke="#999" stroke-width="2.5"/>
<g class="lg"><circle cx="114" cy="713" r="4.5" fill="#93dbf7"/><text x="121" y="717">Cause</text><circle cx="167" cy="713" r="4.5" fill="#f6a92c"/><text x="174" y="717">Cumulative %</text></g>
</svg></div></div>

<!-- COST -->
<div class="card" style="left:1163px;top:83px">
<div class="hero" style="background:linear-gradient(#f1b562,#fc9a0c)"><div class="t">Cost</div><div class="ar"><svg width="28" height="28"><path d="M9,19L19,9M11,9h8v8" fill="none" stroke="#fff" stroke-width="1.6"/></svg></div>
<svg width="347" height="346"><g transform="translate(73,64)">
<use href="#pCw" stroke="#fff" stroke-width="60"/>
<use href="#pC" stroke="#45bf69" stroke-width="44"/>
<use href="#pC" stroke="#ec4b4b" stroke-width="44" stroke-dasharray="6 200" stroke-dashoffset="-34"/>
<use href="#pC" stroke="#f6a92c" stroke-width="44" stroke-dasharray="9 200" stroke-dashoffset="-61"/>
<rect x="153" y="7" width="14" height="22" fill="#ec4b4b"/><rect x="140" y="7" width="13" height="22" fill="#f6a92c"/><rect x="126" y="7" width="14" height="22" fill="#ec4b4b"/><rect x="92" y="7" width="34" height="22" fill="#f6a92c"/>
<rect x="112" y="202" width="64" height="22" fill="#dcdcdc"/><rect x="176" y="202" width="19" height="44" fill="#dcdcdc"/>
<use href="#pC" stroke="#fff" stroke-opacity=".3" stroke-width="44" stroke-dasharray="0.3 3.6"/>
</g></svg></div>
<div class="body"><svg width="347" height="736">
<rect x="17.5" y="21.5" width="310" height="38" rx="19" class="ddb"/><text x="38" y="46" class="dd">Energy Consumed</text><path d="M297,37l7,7l7,-7" class="chev"/>
<text x="17" y="94" class="h">Energy Consumed</text><use href="#ci" x="304" y="78" width="20" height="22"/>
<g class="g"><line x1="61" x2="327" y1="112" y2="112"/><line x1="61" x2="327" y1="133.8" y2="133.8"/><line x1="61" x2="327" y1="155.6" y2="155.6"/><line x1="61" x2="327" y1="177.4" y2="177.4"/><line x1="61" x2="327" y1="199.2" y2="199.2"/><line x1="61" x2="327" y1="221" y2="221"/></g>
<g class="ax" text-anchor="end"><text x="57" y="116">1780</text><text x="57" y="138">1602</text><text x="57" y="160">1246</text><text x="57" y="181">890</text><text x="57" y="203">534</text><text x="57" y="225">178</text></g>
<text class="rot" transform="translate(24,166) rotate(-90)" text-anchor="middle">kWh</text>
<g fill="#8fd6f5"><rect x="77.8" y="155.6" width="2.5" height="65.4"/><rect x="114.6" y="155.6" width="2.5" height="65.4"/><rect x="151.4" y="155.6" width="2.5" height="65.4"/><rect x="188.2" y="155.6" width="2.5" height="65.4"/><rect x="225" y="155.6" width="2.5" height="65.4"/><rect x="261.8" y="155.6" width="2.5" height="65.4"/><rect x="298.6" y="155.6" width="2.5" height="65.4"/></g>
<rect x="83.8" y="155.6" width="2.5" height="65.4" fill="#3dba5f"/><rect x="120.6" y="155.6" width="2.5" height="65.4" fill="#3dba5f"/><rect x="157.4" y="139" width="2.5" height="82" fill="#ec4b4b"/><rect x="194.2" y="204" width="2.5" height="17" fill="#f6a92c"/><rect x="231" y="116" width="2.5" height="105" fill="#ec4b4b"/><rect x="267.8" y="181" width="2.5" height="40" fill="#f6a92c"/><rect x="304.6" y="203" width="2.5" height="18" fill="#f6a92c"/>
<g class="ax" text-anchor="middle"><text x="82" y="247">WK1</text><text x="118.8" y="247">WK2</text><text x="155.6" y="247">WK3</text><text x="192.4" y="247">WK4</text><text x="229.2" y="247">WK5</text><text x="266" y="247">WK6</text><text x="302.8" y="247">WK7</text></g>
<line x1="45" x2="327" y1="260" y2="260" stroke="#e2e2e2" stroke-width="2.5"/><line x1="45" x2="107" y1="260" y2="260" stroke="#999" stroke-width="2.5"/>
<g class="lg"><circle cx="42" cy="280" r="4.5" fill="#8fd6f5"/><text x="49" y="284">Goal</text><circle cx="91" cy="280" r="4.5" fill="#3dba5f"/><text x="98" y="284">Meet Goal</text><circle cx="170" cy="280" r="4.5" fill="#f6a92c"/><text x="177" y="284">Behind Goal</text><circle cx="262" cy="280" r="4.5" fill="#e53935"/><text x="269" y="284">At Risk</text></g>
<rect x="0" y="298" width="347" height="3" fill="#e9edf2"/>
<text x="17" y="337" class="h">Action Plan</text>
<rect x="186.5" y="315.5" width="40" height="32" rx="4" fill="#e2f4fd" stroke="#5bc4ef"/><text x="206.5" y="338" class="bn" fill="#1aa7e8">0</text>
<rect x="236.5" y="315.5" width="40" height="32" rx="4" fill="#fdf0d9" stroke="#f3c27a"/><text x="256.5" y="338" class="bn" fill="#f0a020">01</text>
<rect x="286.5" y="315.5" width="40" height="32" rx="4" fill="#fde5e5" stroke="#ef8a8a"/><text x="306.5" y="338" class="bn" fill="#e53935">0</text>
<text x="17" y="370" class="th">Action Plan Title</text><text x="173" y="370" class="th">Due Date</text><text x="300" y="370" class="th" text-anchor="middle">Status</text>
<line x1="17" x2="327" y1="384" y2="384" stroke="#eceef2" stroke-width="2"/>
<use href="#tag" x="19" y="397" width="10" height="10" fill="#e53935"/><text x="33" y="406" class="td">Cost Analysis</text><text x="173" y="406" class="td">28/11/2024</text>
<rect x="263" y="390" width="64" height="25" rx="12.5" fill="#fdf0d6" stroke="#f2c070"/><text x="295" y="407" class="pl" fill="#eb9b14">Pending</text>
<line x1="17" x2="327" y1="420" y2="420" stroke="#eceef2" stroke-width="2"/>
<rect x="0" y="442" width="347" height="3" fill="#e9edf2"/>
<text x="17" y="481" class="h">One Minute Manager</text><use href="#ci" x="304" y="464" width="20" height="22"/>
<rect x="61" y="568" width="266" height="85" fill="url(#gGoal)"/>
<g class="g"><line x1="61" x2="327" y1="509" y2="509"/><line x1="61" x2="327" y1="538" y2="538"/><line x1="61" x2="327" y1="595" y2="595"/><line x1="61" x2="327" y1="624" y2="624"/><line x1="61" x2="327" y1="653" y2="653"/></g>
<g class="ax" text-anchor="end"><text x="57" y="513">1780</text><text x="57" y="542">1602</text><text x="57" y="571">1246</text><text x="57" y="599">890</text><text x="57" y="628">534</text><text x="57" y="657">178</text></g>
<text class="rot" transform="translate(24,581) rotate(-90)" text-anchor="middle">kWh</text>
<polygon points="118.8,568 155.6,542 166.6,568" fill="url(#gRed)"/><polygon points="211.6,568 229.2,512 252.9,568" fill="url(#gRed)"/>
<line x1="61" x2="327" y1="568" y2="568" stroke="#22a7e5" stroke-width="2.5"/>
<polyline points="61,645 96,645 130,627 169,649 205,649 242,614 281,649 314,630 327,630" fill="none" stroke="#6152e0" stroke-width="2"/>
<polyline points="61,625 82,568 118.8,568 155.6,542 192.4,629 229.2,512 266,599 302.8,629 327,629" fill="none" stroke="#1f4e79" stroke-width="2.2"/>
<g stroke="#fff" stroke-width="1"><circle cx="82" cy="568" r="5.5" fill="#3dba5f"/><circle cx="118.8" cy="568" r="5.5" fill="#3dba5f"/><circle cx="155.6" cy="542" r="5.5" fill="#e53935"/><circle cx="192.4" cy="629" r="5.5" fill="#f6a92c"/><circle cx="229.2" cy="512" r="5.5" fill="#e53935"/><circle cx="266" cy="599" r="5.5" fill="#f6a92c"/><circle cx="302.8" cy="629" r="5.5" fill="#f6a92c"/></g>
<g class="ax" text-anchor="middle"><text x="82" y="679">WK1</text><text x="118.8" y="679">WK2</text><text x="155.6" y="679">WK3</text><text x="192.4" y="679">WK4</text><text x="229.2" y="679">WK5</text><text x="266" y="679">WK6</text><text x="302.8" y="679">WK7</text></g>
<line x1="45" x2="327" y1="692" y2="692" stroke="#e2e2e2" stroke-width="2.5"/><line x1="45" x2="107" y1="692" y2="692" stroke="#999" stroke-width="2.5"/>
<g class="lg"><circle cx="19" cy="713" r="4.5" fill="#8fd6f5"/><text x="26" y="717">Goal</text><circle cx="66" cy="713" r="4.5" fill="#3dba5f"/><text x="73" y="717">Meet Goal</text><circle cx="141" cy="713" r="4.5" fill="#f6a92c"/><text x="148" y="717">Behind Goal</text><circle cx="226" cy="713" r="4.5" fill="#e53935"/><text x="233" y="717">At Risk</text><circle cx="283" cy="713" r="4.5" fill="#5a4de0"/><text x="290" y="717">Trend</text></g>
</svg></div></div>

<!-- PEOPLE -->
<div class="card" style="left:1540px">
<div class="hero" style="background:linear-gradient(#8c80e8,#3a27ae)"><div class="t">People</div><div class="ar"><svg width="28" height="28"><path d="M9,19L19,9M11,9h8v8" fill="none" stroke="#fff" stroke-width="1.6"/></svg></div>
<svg width="347" height="346"><g transform="translate(82,66)">
<use href="#pPw" stroke="#fff" stroke-width="60"/>
<use href="#pP" stroke="#45bf69" stroke-width="44"/>
<g fill="#f6a92c"><rect x="7" y="9" width="22" height="14.8"/><rect x="7" y="112.6" width="22" height="14.8"/><rect x="29" y="216.2" width="22" height="29.6"/><rect x="51" y="9" width="39" height="22"/></g>
<g fill="#ec4b4b"><rect x="7" y="68.2" width="22" height="14.8"/><rect x="29" y="97.8" width="22" height="29.6"/><rect x="51" y="31" width="46" height="22"/></g>
<use href="#pP" stroke="#f6a92c" stroke-width="44" stroke-dasharray="4.5 200" stroke-dashoffset="-54"/>
<path d="M140,86 A50,50 0 0 1 90,142 L60,142" fill="none" stroke="#dcdcdc" stroke-width="22"/>
<rect x="51" y="131" width="20" height="44" fill="#dcdcdc"/>
<use href="#pP" stroke="#fff" stroke-opacity=".3" stroke-width="44" stroke-dasharray="0.3 3"/>
<line x1="29" y1="9" x2="29" y2="246" stroke="#fff" stroke-opacity=".3"/>
</g></svg></div>
<div class="body"><svg width="347" height="736">
<rect x="17.5" y="21.5" width="310" height="38" rx="19" class="ddb"/><text x="38" y="46" class="dd">Absenteeism</text><path d="M297,37l7,7l7,-7" class="chev"/>
<text x="17" y="94" class="h">Absenteeism</text><use href="#ci" x="304" y="78" width="20" height="22"/>
<g class="g"><line x1="46" x2="329" y1="112" y2="112"/><line x1="46" x2="329" y1="133.8" y2="133.8"/><line x1="46" x2="329" y1="155.6" y2="155.6"/><line x1="46" x2="329" y1="177.4" y2="177.4"/><line x1="46" x2="329" y1="199.2" y2="199.2"/></g>
<g class="ax" text-anchor="end"><text x="42" y="116">10</text><text x="42" y="138">8</text><text x="42" y="160">6</text><text x="42" y="181">4</text><text x="42" y="203">2</text><text x="42" y="225">0</text></g>
<text class="rot" transform="translate(22,166) rotate(-90)" text-anchor="middle">Counts</text>
<line x1="46" x2="329" y1="221" y2="221" stroke="#8fd6f5" stroke-width="3"/>
<polyline points="46,199.2 58,199.2 95,221 132,221 169,221 206,177.4 243,221 280,221 317,199.2 329,199.2" fill="none" stroke="#1f4e79" stroke-width="2.4"/>
<g stroke="#fff" stroke-width="1"><circle cx="58" cy="199.2" r="5" fill="#f6a92c"/><circle cx="95" cy="221" r="5" fill="#3dba5f"/><circle cx="132" cy="221" r="5" fill="#3dba5f"/><circle cx="169" cy="221" r="5" fill="#3dba5f"/><circle cx="206" cy="177.4" r="5" fill="#e53935"/><circle cx="243" cy="221" r="5" fill="#3dba5f"/><circle cx="280" cy="221" r="5" fill="#3dba5f"/><circle cx="317" cy="199.2" r="5" fill="#f6a92c"/></g>
<g class="ax" text-anchor="middle"><text x="58" y="247">WK1</text><text x="95" y="247">WK2</text><text x="132" y="247">WK3</text><text x="169" y="247">WK4</text><text x="206" y="247">WK5</text><text x="243" y="247">WK6</text><text x="280" y="247">WK7</text><text x="317" y="247">WK8</text></g>
<line x1="46" x2="329" y1="260" y2="260" stroke="#e2e2e2" stroke-width="2.5"/><line x1="46" x2="108" y1="260" y2="260" stroke="#999" stroke-width="2.5"/>
<g class="lg"><circle cx="42" cy="280" r="4.5" fill="#8fd6f5"/><text x="49" y="284">Goal</text><circle cx="91" cy="280" r="4.5" fill="#3dba5f"/><text x="98" y="284">Meet Goal</text><circle cx="170" cy="280" r="4.5" fill="#f6a92c"/><text x="177" y="284">Behind Goal</text><circle cx="262" cy="280" r="4.5" fill="#e53935"/><text x="269" y="284">At Risk</text></g>
<rect x="0" y="298" width="347" height="3" fill="#e9edf2"/>
<text x="17" y="337" class="h">Action Plan</text>
<rect x="186.5" y="315.5" width="40" height="32" rx="4" fill="#e2f4fd" stroke="#5bc4ef"/><text x="206.5" y="338" class="bn" fill="#1aa7e8">0</text>
<rect x="236.5" y="315.5" width="40" height="32" rx="4" fill="#fdf0d9" stroke="#f3c27a"/><text x="256.5" y="338" class="bn" fill="#f0a020">0</text>
<rect x="286.5" y="315.5" width="40" height="32" rx="4" fill="#fde5e5" stroke="#ef8a8a"/><text x="306.5" y="338" class="bn" fill="#e53935">01</text>
<text x="17" y="370" class="th">Action Plan Title</text><text x="173" y="370" class="th">Due Date</text><text x="300" y="370" class="th" text-anchor="middle">Status</text>
<line x1="17" x2="327" y1="384" y2="384" stroke="#eceef2" stroke-width="2"/>
<use href="#tag" x="19" y="397" width="10" height="10" fill="#e53935"/><text x="33" y="400" class="td">Customer Feedback</text><text x="33" y="414" class="td">Analysis</text><text x="173" y="406" class="td">28/11/2024</text>
<rect x="263" y="390" width="64" height="25" rx="12.5" fill="#fde8e8" stroke="#e57373"/><text x="295" y="407" class="pl" fill="#d83030">Overdue</text>
<line x1="17" x2="327" y1="420" y2="420" stroke="#eceef2" stroke-width="2"/>
<rect x="0" y="442" width="347" height="3" fill="#e9edf2"/>
<text x="17" y="481" class="h">One Minute Manager</text><use href="#ci" x="304" y="464" width="20" height="22"/>
<g class="g"><line x1="46" x2="329" y1="509" y2="509"/><line x1="46" x2="329" y1="537.8" y2="537.8"/><line x1="46" x2="329" y1="566.6" y2="566.6"/><line x1="46" x2="329" y1="595.4" y2="595.4"/><line x1="46" x2="329" y1="624.2" y2="624.2"/></g>
<g class="ax" text-anchor="end"><text x="42" y="513">10</text><text x="42" y="542">8</text><text x="42" y="571">6</text><text x="42" y="599">4</text><text x="42" y="628">2</text><text x="42" y="657">0</text></g>
<text class="rot" transform="translate(22,581) rotate(-90)" text-anchor="middle">Counts</text>
<polygon points="46,631.4 58,631.4 95,653 46,653" fill="url(#gPB)"/><polygon points="280,653 317,631.4 329,631.4 329,653" fill="url(#gPB)"/>
<polygon points="169,653 206,612.7 243,653" fill="url(#gRed)"/>
<line x1="46" x2="329" y1="653" y2="653" stroke="#8fd6e8" stroke-width="2.5"/>
<polyline points="46,641.5 58,641.5 95,641.5 132,625 169,644.4 206,644.4 243,613 280,644.4 317,621.3 329,621.3" fill="none" stroke="#6152e0" stroke-width="2"/>
<polyline points="46,631.4 58,631.4 95,653 132,653 169,653 206,612.7 243,653 280,653 317,631.4 329,631.4" fill="none" stroke="#1f4e79" stroke-width="2.2"/>
<g stroke="#fff" stroke-width="1"><circle cx="58" cy="631.4" r="4.5" fill="#f6a92c"/><circle cx="95" cy="653" r="4.5" fill="#3dba5f"/><circle cx="132" cy="653" r="4.5" fill="#3dba5f"/><circle cx="169" cy="653" r="4.5" fill="#3dba5f"/><circle cx="206" cy="612.7" r="4.5" fill="#e53935"/><circle cx="243" cy="653" r="4.5" fill="#3dba5f"/><circle cx="280" cy="653" r="4.5" fill="#3dba5f"/><circle cx="317" cy="631.4" r="4.5" fill="#f6a92c"/></g>
<g class="ax" text-anchor="middle"><text x="58" y="679">WK1</text><text x="95" y="679">WK2</text><text x="132" y="679">WK3</text><text x="169" y="679">WK4</text><text x="206" y="679">WK5</text><text x="243" y="679">WK6</text><text x="280" y="679">WK7</text><text x="317" y="679">WK8</text></g>
<line x1="46" x2="329" y1="692" y2="692" stroke="#e2e2e2" stroke-width="2.5"/><line x1="46" x2="108" y1="692" y2="692" stroke="#999" stroke-width="2.5"/>
<g class="lg"><circle cx="19" cy="713" r="4.5" fill="#8fd6f5"/><text x="26" y="717">Goal</text><circle cx="66" cy="713" r="4.5" fill="#3dba5f"/><text x="73" y="717">Meet Goal</text><circle cx="141" cy="713" r="4.5" fill="#f6a92c"/><text x="148" y="717">Behind Goal</text><circle cx="226" cy="713" r="4.5" fill="#e53935"/><text x="233" y="717">At Risk</text><circle cx="283" cy="713" r="4.5" fill="#5a4de0"/><text x="290" y="717">Trend</text></g>
</svg></div></div>
</body></html>
